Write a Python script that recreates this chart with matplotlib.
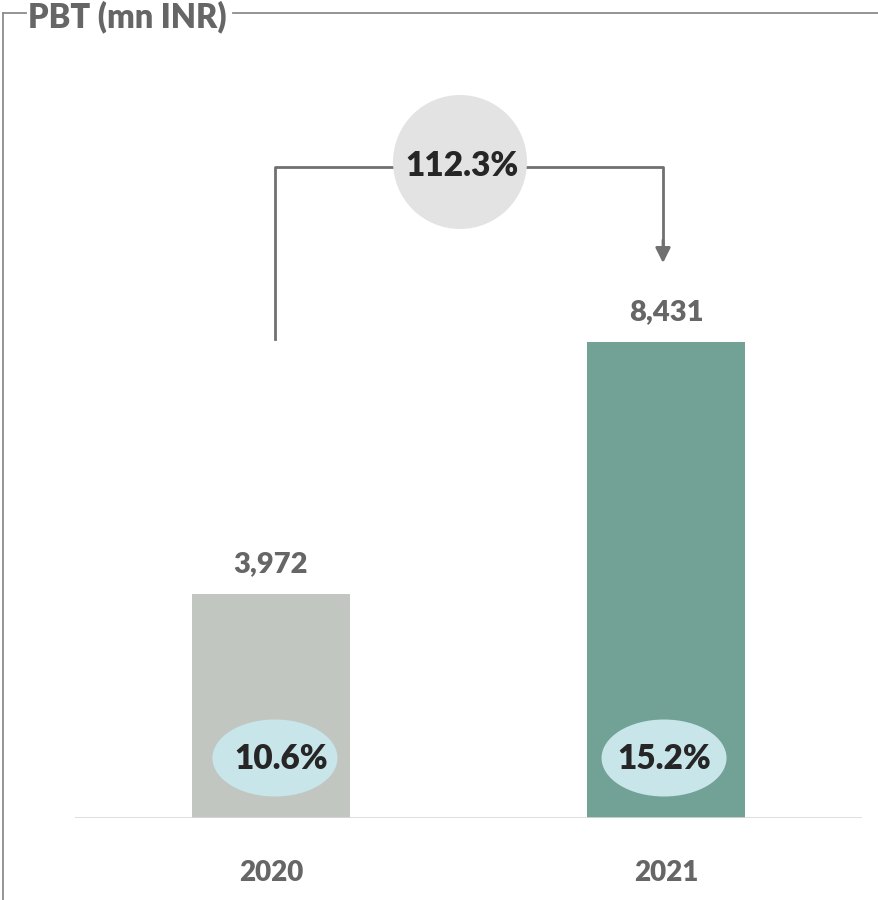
import matplotlib
matplotlib.use("Agg")
import matplotlib.pyplot as plt
from matplotlib.patches import Ellipse, Circle
from matplotlib.transforms import ScaledTranslation
from matplotlib.lines import Line2D

# ---- data ----
years = ["2020", "2021"]
pbt = [3972, 8431]
margins = ["10.6%", "15.2%"]
growth = "112.3%"
title = "PBT (mn INR)"

bar_colors = ["#C2C6C1", "#72A295"]
label_gray = "#666666"
dark = "#262626"
FONT = "Lato"
WT = "heavy"

W, H = 879, 900
fig = plt.figure(figsize=(W / 100, H / 100), dpi=100)

# overlay axes in pixel coords for frame/connector
ov = fig.add_axes([0, 0, 1, 1])
ov.set_xlim(0, W)
ov.set_ylim(H, 0)
ov.axis("off")

# main bar axes: baseline at y=818 px, from x=75 to 862
left, right = 75, 862
base, top = 818, 13
ax = fig.add_axes([left / W, (H - base) / H, (right - left) / W, (base - top) / H])
ax.set_zorder(2)
ax.patch.set_alpha(0)
px_per_unit = 0.05649
ax.set_ylim(0, (base - top) / px_per_unit)
ax.set_xlim(-0.496, 1.496)
xs = list(range(len(years)))
ax.bar(xs, pbt, width=0.4, color=bar_colors, zorder=2)
for s in ax.spines.values():
    s.set_visible(False)
ax.set_yticks([])
ax.set_xticks(xs)
ax.set_xticklabels(years, fontsize=20, fontweight=WT, color=label_gray, family=FONT)
ax.tick_params(axis="x", length=0, pad=30)
ax.axhline(0, color="#D9D9D9", lw=1.2, zorder=3)

for x, v in zip(xs, pbt):
    ax.annotate(f"{v:,}", (x, v), xytext=(0, 21), textcoords="offset points",
                ha="center", va="center", fontsize=21, fontweight=WT,
                color=label_gray, family=FONT)

# margin ellipses
offsets = [0.04, -0.02]
for x, m, dx in zip(xs, margins, offsets):
    tr = fig.dpi_scale_trans + ScaledTranslation(x, 0, ax.transData)
    e = Ellipse((dx, 0.60), 1.25, 0.77, transform=tr, facecolor="#C8E5EA",
                edgecolor="none", zorder=4)
    ax.add_patch(e)
    ax.text(dx + 0.06 if dx > 0 else dx, 0.59, m, transform=tr, ha="center", va="center",
            fontsize=24, fontweight=WT, color=dark, family=FONT, zorder=5)

# frame
fc = "#8C8C8C"
ov.add_line(Line2D([3, 3], [13, 900], color=fc, lw=1.3))
ov.add_line(Line2D([3, 26], [13, 13], color=fc, lw=1.3))
ov.add_line(Line2D([233, 879], [13, 13], color=fc, lw=1.3))
ov.text(28, 17, title, ha="left", va="center", fontsize=23.5, fontweight=WT,
        color=label_gray, family=FONT)

# connector
cc = "#707070"
ov.add_line(Line2D([275, 275, 663, 663], [339, 167, 167, 245], color=cc, lw=2))
ov.annotate("", xy=(663, 263), xytext=(663, 240),
            arrowprops=dict(arrowstyle="-|>,head_length=0.9,head_width=0.45",
                            color=cc, lw=2, shrinkA=0, shrinkB=0))
ov.add_patch(Circle((460, 162), 67, facecolor="#E3E3E3", edgecolor="none", zorder=3))
ov.text(462, 166, growth, ha="center", va="center", fontsize=24, fontweight=WT,
        color=dark, family=FONT, zorder=4)

fig.savefig("out.png", dpi=100)
